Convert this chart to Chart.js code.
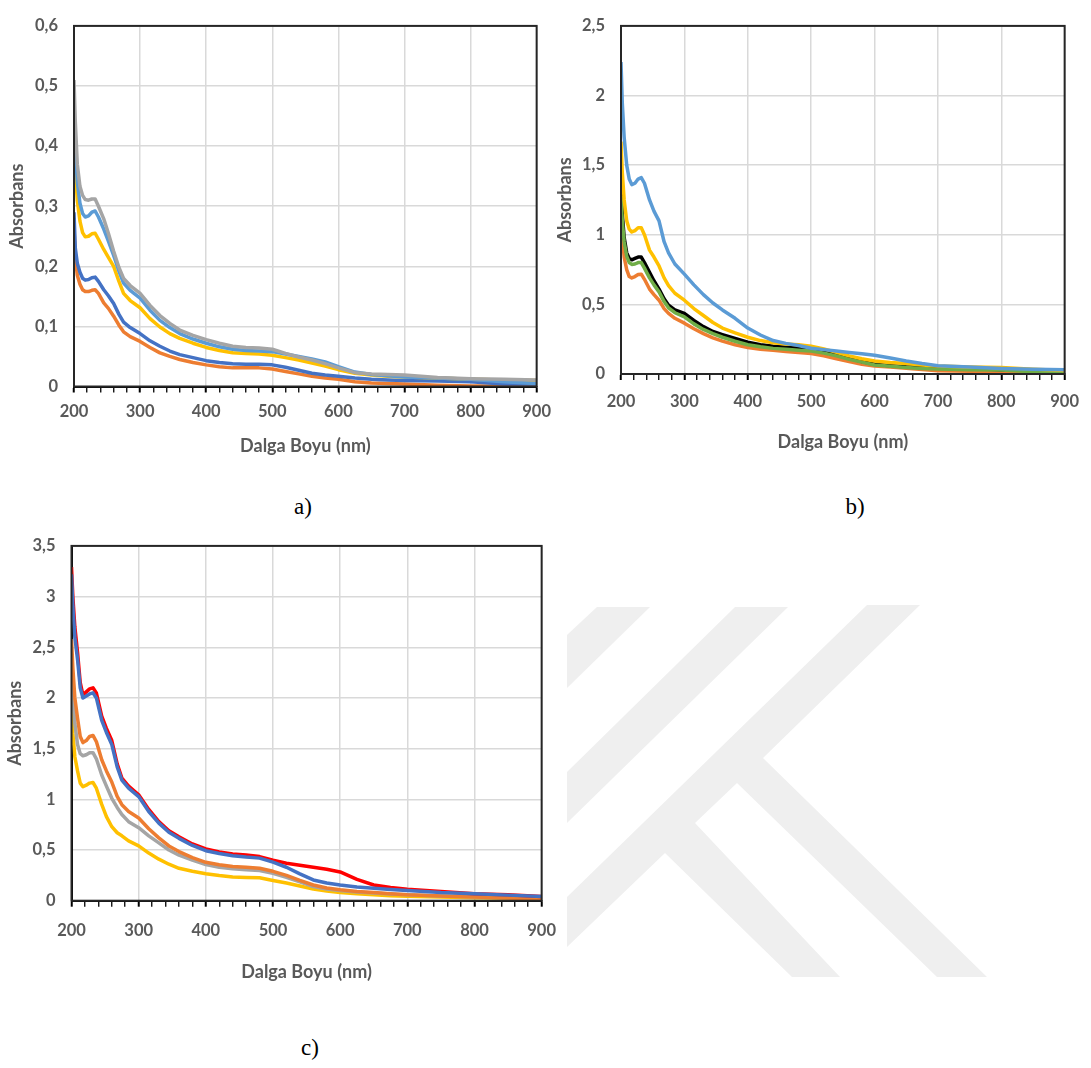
<!DOCTYPE html>
<html>
<head>
<meta charset="utf-8">
<script src="https://cdn.jsdelivr.net/npm/chart.js@4.4.1/dist/chart.umd.min.js"></script>
<style>
  body { margin: 0; background: #fff; }
  #page { position: relative; width: 1091px; height: 1068px; overflow: hidden; }
  canvas { position: absolute; }
  svg { position: absolute; left: 0; top: 0; }
  .cap { position: absolute; font-family: 'Liberation Serif', 'Times New Roman', serif; font-size: 23px; color: #000; transform: translate(-50%, -50%); }
</style>
</head>
<body>
<div id="page">
  <svg width="1091" height="1068">
    <g fill="#efefef">
      <polygon points="567,635 597,607 650,607 567,688"/>
      <polygon points="567,772 735,607 788,607 567,823"/>
      <polygon points="567,897 867,605 920,605 763,758 987,977 937,977 737,783 695,823 840,977 792,977 665,853 567,947"/>
    </g>
  </svg>
  <canvas id="chartA" width="560" height="470" style="left:0;top:0"></canvas>
  <canvas id="chartB" width="546" height="470" style="left:545px;top:0"></canvas>
  <canvas id="chartC" width="570" height="490" style="left:0;top:520px"></canvas>
  <div class="cap" style="left:303px;top:507px">a)</div>
  <div class="cap" style="left:855px;top:507px">b)</div>
  <div class="cap" style="left:310px;top:1048px">c)</div>
</div>
<script>
// wavelengths (nm) shared by all spectra
const wavelengths = [200, 202, 205, 209, 213, 217, 222, 227, 232, 237, 245, 252, 260, 268, 275, 285, 300, 315, 330, 345, 360, 380, 400, 420, 440, 460, 480, 500, 520, 540, 560, 580, 600, 625, 650, 675, 700, 750, 800, 850, 900];

// a)
const aGray      = [0.51, 0.44, 0.37, 0.333, 0.318, 0.311, 0.310, 0.312, 0.312, 0.300, 0.279, 0.255, 0.225, 0.198, 0.180, 0.168, 0.155, 0.135, 0.118, 0.105, 0.094, 0.085, 0.078, 0.072, 0.067, 0.065, 0.064, 0.062, 0.055, 0.049, 0.044, 0.038, 0.031, 0.023, 0.021, 0.020, 0.019, 0.015, 0.013, 0.012, 0.011];
const aLightBlue = [0.46, 0.40, 0.34, 0.305, 0.288, 0.282, 0.284, 0.290, 0.292, 0.282, 0.262, 0.242, 0.218, 0.192, 0.172, 0.160, 0.147, 0.127, 0.110, 0.098, 0.088, 0.079, 0.072, 0.066, 0.062, 0.060, 0.059, 0.058, 0.054, 0.050, 0.046, 0.041, 0.033, 0.024, 0.020, 0.018, 0.016, 0.014, 0.012, 0.008, 0.005];
const aYellow    = [0.41, 0.36, 0.31, 0.275, 0.256, 0.249, 0.250, 0.254, 0.255, 0.245, 0.228, 0.215, 0.200, 0.175, 0.155, 0.143, 0.131, 0.113, 0.099, 0.088, 0.080, 0.072, 0.065, 0.060, 0.056, 0.055, 0.054, 0.052, 0.048, 0.044, 0.039, 0.034, 0.028, 0.022, 0.019, 0.017, 0.016, 0.014, 0.012, 0.011, 0.010];
const aBlue      = [0.29, 0.23, 0.205, 0.190, 0.180, 0.177, 0.178, 0.181, 0.182, 0.175, 0.161, 0.151, 0.138, 0.120, 0.107, 0.098, 0.088, 0.076, 0.067, 0.059, 0.053, 0.048, 0.043, 0.040, 0.038, 0.037, 0.037, 0.036, 0.032, 0.027, 0.022, 0.019, 0.017, 0.014, 0.012, 0.011, 0.010, 0.009, 0.008, 0.004, 0.004];
const aOrange    = [0.265, 0.215, 0.185, 0.170, 0.161, 0.158, 0.158, 0.160, 0.161, 0.155, 0.139, 0.130, 0.117, 0.102, 0.091, 0.083, 0.075, 0.065, 0.056, 0.050, 0.045, 0.040, 0.036, 0.033, 0.031, 0.031, 0.031, 0.029, 0.025, 0.021, 0.017, 0.014, 0.012, 0.008, 0.006, 0.005, 0.004, 0.002, 0.001, 0.001, 0.001];

// b)
const bLightBlue = [2.24, 1.95, 1.70, 1.50, 1.40, 1.36, 1.37, 1.40, 1.41, 1.37, 1.25, 1.17, 1.10, 0.95, 0.87, 0.79, 0.717, 0.64, 0.57, 0.51, 0.46, 0.40, 0.33, 0.28, 0.24, 0.22, 0.205, 0.185, 0.175, 0.165, 0.155, 0.145, 0.135, 0.115, 0.093, 0.075, 0.06, 0.05, 0.04, 0.035, 0.03];
const bYellow    = [1.67, 1.45, 1.25, 1.10, 1.04, 1.02, 1.03, 1.05, 1.05, 1.00, 0.89, 0.84, 0.776, 0.69, 0.635, 0.58, 0.53, 0.47, 0.42, 0.37, 0.33, 0.295, 0.264, 0.24, 0.224, 0.215, 0.21, 0.20, 0.18, 0.155, 0.13, 0.11, 0.093, 0.082, 0.075, 0.065, 0.058, 0.05, 0.047, 0.035, 0.025];
const bBlack     = [1.35, 1.15, 0.98, 0.87, 0.83, 0.82, 0.83, 0.84, 0.84, 0.80, 0.73, 0.67, 0.61, 0.54, 0.494, 0.46, 0.435, 0.385, 0.34, 0.305, 0.283, 0.255, 0.229, 0.21, 0.20, 0.193, 0.188, 0.184, 0.16, 0.14, 0.115, 0.09, 0.07, 0.06, 0.052, 0.049, 0.047, 0.04, 0.03, 0.025, 0.02];
const bGreen     = [1.28, 1.10, 0.95, 0.846, 0.80, 0.787, 0.79, 0.80, 0.80, 0.76, 0.69, 0.64, 0.59, 0.52, 0.475, 0.44, 0.41, 0.36, 0.32, 0.29, 0.264, 0.235, 0.21, 0.195, 0.184, 0.177, 0.17, 0.165, 0.15, 0.13, 0.105, 0.085, 0.065, 0.055, 0.047, 0.04, 0.035, 0.03, 0.028, 0.016, 0.016];
const bOrange    = [1.15, 0.98, 0.84, 0.75, 0.70, 0.69, 0.70, 0.715, 0.717, 0.68, 0.61, 0.57, 0.53, 0.47, 0.435, 0.40, 0.365, 0.325, 0.29, 0.26, 0.236, 0.21, 0.19, 0.178, 0.17, 0.162, 0.155, 0.147, 0.13, 0.11, 0.09, 0.07, 0.058, 0.05, 0.042, 0.032, 0.023, 0.02, 0.016, 0.01, 0.005];

// c)
const cRed    = [3.29, 3.0, 2.7, 2.45, 2.15, 2.03, 2.06, 2.09, 2.10, 2.05, 1.82, 1.70, 1.58, 1.35, 1.21, 1.13, 1.044, 0.90, 0.78, 0.69, 0.63, 0.56, 0.51, 0.48, 0.46, 0.45, 0.435, 0.40, 0.37, 0.35, 0.33, 0.31, 0.284, 0.21, 0.155, 0.13, 0.113, 0.09, 0.068, 0.058, 0.042];
const cBlue   = [3.22, 2.9, 2.6, 2.38, 2.10, 2.0, 2.02, 2.04, 2.05, 2.0, 1.78, 1.66, 1.54, 1.32, 1.19, 1.11, 1.027, 0.88, 0.765, 0.675, 0.615, 0.545, 0.493, 0.465, 0.444, 0.43, 0.42, 0.38, 0.33, 0.265, 0.205, 0.175, 0.155, 0.135, 0.123, 0.11, 0.10, 0.08, 0.068, 0.055, 0.042];
const cOrange = [2.58, 2.3, 2.0, 1.80, 1.62, 1.56, 1.58, 1.62, 1.63, 1.57, 1.39, 1.28, 1.17, 1.03, 0.947, 0.88, 0.816, 0.71, 0.62, 0.54, 0.485, 0.425, 0.379, 0.355, 0.338, 0.33, 0.32, 0.29, 0.25, 0.20, 0.155, 0.125, 0.107, 0.09, 0.08, 0.068, 0.058, 0.047, 0.036, 0.026, 0.016];
const cGray   = [2.30, 2.0, 1.75, 1.54, 1.45, 1.43, 1.44, 1.46, 1.46, 1.40, 1.24, 1.13, 1.01, 0.92, 0.85, 0.78, 0.72, 0.64, 0.57, 0.50, 0.45, 0.40, 0.357, 0.33, 0.315, 0.305, 0.298, 0.27, 0.23, 0.185, 0.14, 0.115, 0.10, 0.085, 0.075, 0.065, 0.058, 0.047, 0.038, 0.03, 0.026];
const cYellow = [1.88, 1.65, 1.42, 1.28, 1.16, 1.124, 1.14, 1.16, 1.166, 1.11, 0.95, 0.83, 0.73, 0.67, 0.64, 0.59, 0.541, 0.47, 0.41, 0.36, 0.32, 0.29, 0.266, 0.248, 0.233, 0.23, 0.227, 0.20, 0.175, 0.145, 0.115, 0.095, 0.08, 0.068, 0.058, 0.05, 0.045, 0.036, 0.03, 0.026, 0.01];

// tick labels
const xTickLabels = ['200', '300', '400', '500', '600', '700', '800', '900'];
const yTickLabelsA = ['0', '0,1', '0,2', '0,3', '0,4', '0,5', '0,6'];
const yTickLabelsB = ['0', '0,5', '1', '1,5', '2', '2,5'];
const yTickLabelsC = ['0', '0,5', '1', '1,5', '2', '2,5', '3', '3,5'];

const COLORS = {
  blue: '#4472C4', orange: '#ED7D31', gray: '#A5A5A5', yellow: '#FFC000',
  lightBlue: '#5B9BD5', green: '#70AD47', red: '#FF0000', black: '#000000'
};

const tickFont = { family: 'Lato, "Open Sans", sans-serif', size: 16.5, weight: 'bold' };
const titleFont = { family: 'Lato, "Open Sans", sans-serif', size: 18, weight: 'bold' };
const textColor = '#595959';

const framePlugin = {
  id: 'frame',
  afterDatasetsDraw(chart) {
    const { ctx, chartArea } = chart;
    ctx.save();
    ctx.strokeStyle = '#262626';
    ctx.lineWidth = 2;
    ctx.strokeRect(chartArea.left, chartArea.top, chartArea.right - chartArea.left, chartArea.bottom - chartArea.top);
    ctx.restore();
  }
};

function series(values, color) {
  return {
    data: wavelengths.map((w, i) => ({ x: w, y: values[i] })),
    borderColor: color,
    borderWidth: 3.5,
    pointRadius: 0,
    tension: 0,
    borderJoinStyle: 'round',
    fill: false
  };
}

function makeChart(id, datasets, yMax, yStep, yLabels, box) {
  return new Chart(document.getElementById(id), {
    type: 'line',
    data: { datasets: datasets },
    plugins: [framePlugin],
    options: {
      responsive: false,
      animation: false,
      events: [],
      layout: { padding: { top: box.top, right: box.right, left: 0, bottom: 0 } },
      plugins: { legend: { display: false }, tooltip: { enabled: false } },
      scales: {
        x: {
          type: 'linear',
          min: 200,
          max: 900,
          afterFit: s => { s.height = box.xHeight; },
          ticks: {
            stepSize: 20,
            autoSkip: false,
            maxRotation: 0,
            padding: box.xPad,
            color: textColor,
            font: tickFont,
            callback: v => (v % 100 === 0 ? xTickLabels[Math.round((v - 200) / 100)] : '')
          },
          grid: {
            color: ctx => (ctx.tick && ctx.tick.value % 100 === 0 ? '#d9d9d9' : 'rgba(0,0,0,0)'),
            lineWidth: 1.5,
            tickColor: '#000',
            tickLength: 6,
            tickWidth: ctx => (ctx.tick && ctx.tick.value % 100 === 0 ? 2 : 1.3)
          },
          border: { color: '#000', width: 2 },
          title: {
            display: true,
            text: 'Dalga Boyu (nm)',
            color: textColor,
            font: titleFont,
            padding: { top: 0, bottom: box.xTitlePad }
          }
        },
        y: {
          min: 0,
          max: yMax,
          afterFit: s => { s.width = box.yWidth; },
          ticks: {
            stepSize: yStep,
            padding: 16,
            color: textColor,
            font: tickFont,
            callback: v => yLabels[Math.round(v / yStep)]
          },
          grid: { color: '#d9d9d9', lineWidth: 1.5, drawTicks: false },
          border: { color: '#000', width: 2 },
          title: {
            display: true,
            text: 'Absorbans',
            color: textColor,
            font: titleFont,
            padding: { top: box.yTitlePad, bottom: 0 }
          }
        }
      }
    }
  });
}

makeChart('chartA', [
  series(aGray, COLORS.gray),
  series(aLightBlue, COLORS.lightBlue),
  series(aYellow, COLORS.yellow),
  series(aBlue, COLORS.blue),
  series(aOrange, COLORS.orange)
], 0.6, 0.1, yTickLabelsA,
  { top: 14, right: 23, yWidth: 74, xHeight: 83.5, xPad: 9, xTitlePad: 13, yTitlePad: 6 });

makeChart('chartB', [
  series(bLightBlue, COLORS.lightBlue),
  series(bYellow, COLORS.yellow),
  series(bGreen, COLORS.green),
  series(bBlack, COLORS.black),
  series(bOrange, COLORS.orange)
], 2.5, 0.5, yTickLabelsB,
  { top: 18, right: 21, yWidth: 76, xHeight: 96, xPad: 12, xTitlePad: 17, yTitlePad: 9 });

makeChart('chartC', [
  series(cBlue, COLORS.blue),
  series(cRed, COLORS.red),
  series(cOrange, COLORS.orange),
  series(cGray, COLORS.gray),
  series(cYellow, COLORS.yellow)
], 3.5, 0.5, yTickLabelsC,
  { top: 20.7, right: 19.5, yWidth: 71.5, xHeight: 109.3, xPad: 14, xTitlePad: 27, yTitlePad: 4 });
</script>
</body>
</html>
